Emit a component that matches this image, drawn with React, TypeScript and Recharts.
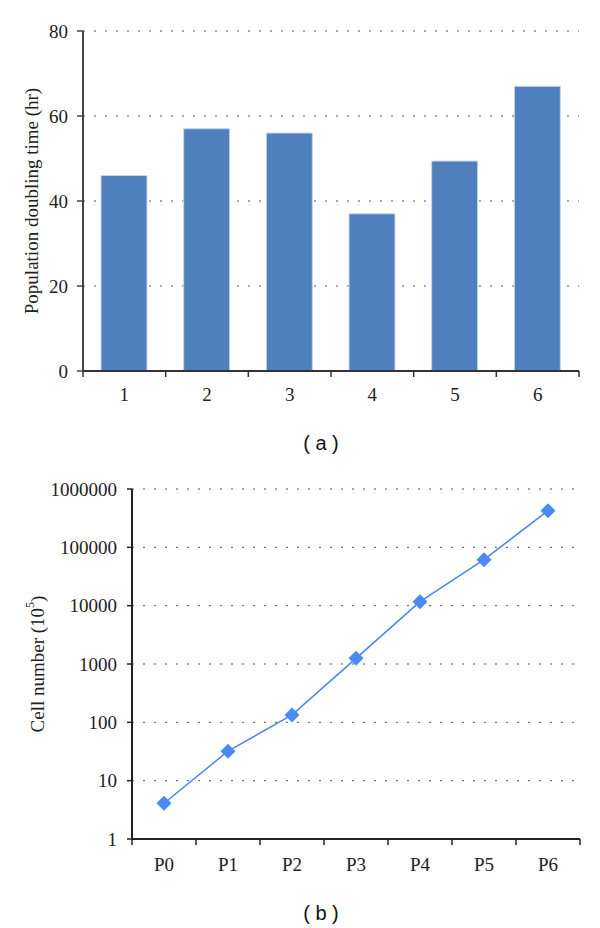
import React from 'react'
import {
  BarChart,
  Bar,
  LineChart,
  Line,
  XAxis,
  YAxis,
  CartesianGrid,
  Label,
} from 'recharts'

// (a) population doubling time per passage
const passages = ['1', '2', '3', '4', '5', '6']
const doublingHours = [46, 57, 56, 37, 49.4, 67]
const doublingTicks = [0, 20, 40, 60, 80]

// (b) cumulative cell number, log scale
const stages = ['P0', 'P1', 'P2', 'P3', 'P4', 'P5', 'P6']
const cellCounts = [4.1, 32, 134, 1250, 11700, 61500, 425000]
const cellTicks = [1, 10, 100, 1000, 10000, 100000, 1000000]

const barData = passages.map((p, i) => ({ passage: p, hours: doublingHours[i] }))
const lineData = stages.map((s, i) => ({ stage: s, cells: cellCounts[i] }))

const W = 600
const H = 420
const serif = '"Liberation Serif", "DejaVu Serif", serif'
const FS = 19

// top chart frame
const A_LEFT = 83
const A_RIGHT = 21
const A_TOP = 31
const A_XH = 49
const A_BOTTOM = H - A_XH
const A_HALF = (W - A_LEFT - A_RIGHT) / passages.length / 2

// bottom chart frame
const B_LEFT = 132
const B_RIGHT = 20
const B_TOP = 29
const B_XH = 41
const B_BOTTOM = H - B_XH
const B_HALF = (W - B_LEFT - B_RIGHT) / stages.length / 2

function BoundaryTick(props: any) {
  const { x, index, payload, axisY, half, count, dy, color } = props
  return (
    <g>
      <line x1={x - half} x2={x - half} y1={axisY} y2={axisY + 6} stroke={color} strokeWidth={1.5} />
      {index === count - 1 && (
        <line x1={x + half} x2={x + half} y1={axisY} y2={axisY + 6} stroke={color} strokeWidth={1.5} />
      )}
      <text x={x} y={axisY + dy} textAnchor="middle" fontFamily={serif} fontSize={FS} fill="#222">
        {payload.value}
      </text>
    </g>
  )
}

function Diamond(props: any) {
  const { cx, cy } = props
  if (cx == null || cy == null) return null
  const r = 7.5
  return (
    <polygon
      points={`${cx},${cy - r} ${cx + r},${cy} ${cx},${cy + r} ${cx - r},${cy}`}
      fill="#4a8af4"
    />
  )
}

const caption: React.CSSProperties = {
  position: 'absolute',
  left: 271,
  width: 100,
  textAlign: 'center',
  fontFamily: '"Liberation Sans", Arial, sans-serif',
  fontSize: 20,
  color: '#111',
  lineHeight: '20px',
}

export default function App() {
  return (
    <div style={{ position: 'absolute', left: 0, top: 0, width: W, height: 928, background: '#fff' }}>
      <div style={{ position: 'absolute', left: 0, top: 0 }}>
        <BarChart width={W} height={H} data={barData} margin={{ top: A_TOP, right: A_RIGHT, left: 0, bottom: 0 }}>
          <CartesianGrid vertical={false} stroke="#555" strokeDasharray="2 9" />
          <XAxis
            dataKey="passage"
            height={A_XH}
            tickLine={false}
            axisLine={{ stroke: '#333', strokeWidth: 2 }}
            interval={0}
            tick={(p: any) => (
              <BoundaryTick {...p} axisY={A_BOTTOM} half={A_HALF} count={passages.length} dy={30} color="#333" />
            )}
          />
          <YAxis
            width={A_LEFT}
            domain={[0, 80]}
            ticks={doublingTicks}
            tickSize={6}
            tickMargin={9}
            axisLine={{ stroke: '#444', strokeWidth: 2 }}
            tickLine={{ stroke: '#444', strokeWidth: 1.5 }}
            tick={{ fontFamily: serif, fontSize: FS, fill: '#222' }}
          >
            <Label
              content={() => (
                <text
                  x={31}
                  y={201}
                  transform="rotate(-90 31 201)"
                  textAnchor="middle"
                  dominantBaseline="central"
                  fontFamily={serif}
                  fontSize={FS}
                  fill="#222"
                >
                  Population doubling time (hr)
                </text>
              )}
            />
          </YAxis>
          <Bar dataKey="hours" fill="#4f7fbc" stroke="#c9d7ec" strokeWidth={1} barSize={46} isAnimationActive={false} />
        </BarChart>
      </div>
      <div style={{ ...caption, top: 433 }}>( a )</div>

      <div style={{ position: 'absolute', left: 0, top: 460 }}>
        <LineChart width={W} height={H} data={lineData} margin={{ top: B_TOP, right: B_RIGHT, left: 0, bottom: 0 }}>
          <CartesianGrid vertical={false} stroke="#555" strokeDasharray="2 9" />
          <XAxis
            dataKey="stage"
            height={B_XH}
            padding={{ left: B_HALF, right: B_HALF }}
            tickLine={false}
            axisLine={{ stroke: '#222', strokeWidth: 2 }}
            interval={0}
            tick={(p: any) => (
              <BoundaryTick {...p} axisY={B_BOTTOM} half={B_HALF} count={stages.length} dy={32} color="#222" />
            )}
          />
          <YAxis
            width={B_LEFT}
            scale="log"
            domain={[1, 1000000]}
            ticks={cellTicks}
            allowDataOverflow
            interval={0}
            tickSize={5}
            tickMargin={10}
            axisLine={{ stroke: '#222', strokeWidth: 2 }}
            tickLine={{ stroke: '#222', strokeWidth: 1.5 }}
            tick={{ fontFamily: serif, fontSize: FS, fill: '#222' }}
            tickFormatter={(v: number) => String(v)}
          >
            <Label
              content={() => (
                <text
                  x={37}
                  y={204}
                  transform="rotate(-90 37 204)"
                  textAnchor="middle"
                  dominantBaseline="central"
                  fontFamily={serif}
                  fontSize={FS}
                  fill="#222"
                >
                  Cell number (10<tspan baselineShift="super" fontSize={12}>5</tspan>)
                </text>
              )}
            />
          </YAxis>
          <Line
            dataKey="cells"
            stroke="#4a86e8"
            strokeWidth={1.5}
            dot={<Diamond />}
            activeDot={false}
            isAnimationActive={false}
          />
        </LineChart>
      </div>
      <div style={{ ...caption, top: 903 }}>( b )</div>
    </div>
  )
}
